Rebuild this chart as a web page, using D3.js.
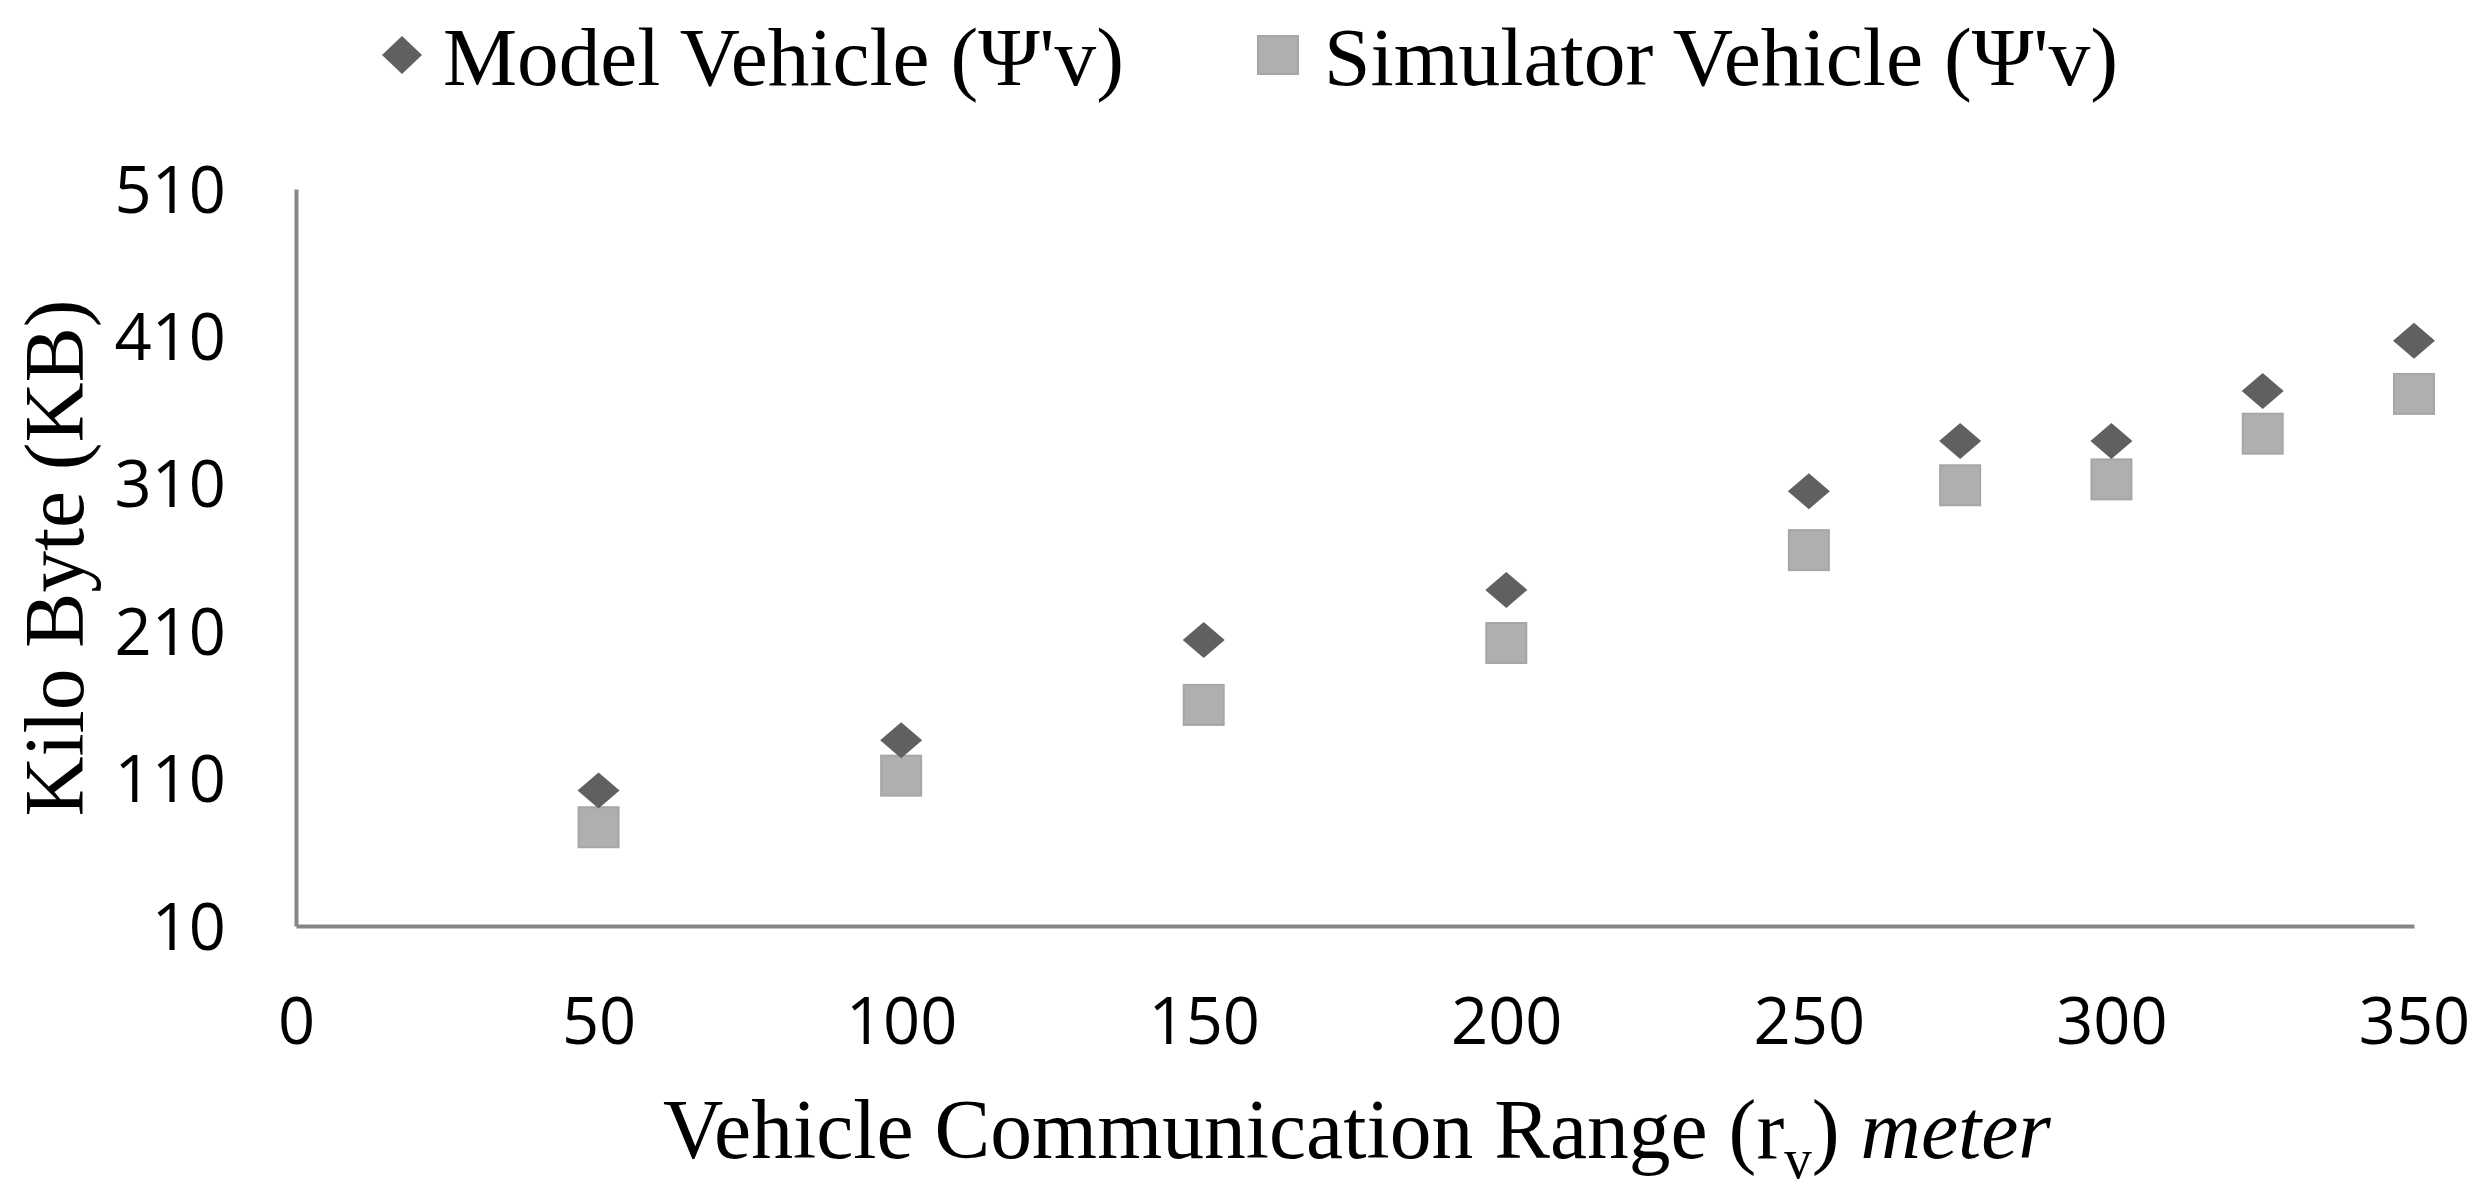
<!DOCTYPE html>
<html>
<head>
<meta charset="utf-8">
<script src="https://cdn.jsdelivr.net/npm/d3@7"></script>
<style>
  html, body { margin: 0; padding: 0; background: #fff; }
  svg { display: block; }
</style>
</head>
<body>
<svg id="chart" width="2483" height="1195"></svg>
<script>
const ranges = [50, 100, 150, 200, 250, 275, 300, 325, 350];
const modelValues = [102, 136, 204, 238, 305, 339, 339, 373, 407];
const simulatorValues = [77, 112, 160, 202, 265, 309, 313, 344, 371];
const xTicks = [0, 50, 100, 150, 200, 250, 300, 350];
const yTicks = [10, 110, 210, 310, 410, 510];
const seriesNames = ["Model Vehicle (\u03A8'v)", "Simulator Vehicle (\u03A8'v)"];

const svg = d3.select("#chart");
const W = 2483, H = 1195;
svg.append("rect").attr("width", W).attr("height", H).attr("fill", "#fff");

const x = d3.scaleLinear().domain([0, 350]).range([296, 2414]);
const y = d3.scaleLinear().domain([10, 510]).range([926, 189]);

const tickFont = "'Open Sans', 'Liberation Sans', sans-serif";
const serif = "'Liberation Serif', 'Times New Roman', serif";
const axisColor = "#878787";

// Y axis
const gy = svg.append("g").attr("transform", `translate(${x(0)},0)`)
  .call(d3.axisLeft(y).tickValues(yTicks).tickSize(0).tickPadding(70));
gy.select(".domain").attr("stroke", axisColor).attr("stroke-width", 4);
gy.selectAll(".tick text")
  .attr("font-family", tickFont).attr("font-size", 65).attr("fill", "#000")
  .attr("dy", 23);

// X axis
const gx = svg.append("g").attr("transform", `translate(0,${y(10)})`)
  .call(d3.axisBottom(x).tickValues(xTicks).tickSize(0));
gx.select(".domain").attr("stroke", axisColor).attr("stroke-width", 4);
gx.selectAll(".tick text")
  .attr("font-family", tickFont).attr("font-size", 65).attr("fill", "#000")
  .attr("y", 118).attr("dy", 0);

// Data
const modelData = ranges.map((r, i) => ({ x: r, v: modelValues[i] }));
const simData = ranges.map((r, i) => ({ x: r, v: simulatorValues[i] }));

const diamondPath = "M0,-18L21,0L0,18L-21,0Z";

svg.append("g").selectAll("rect").data(simData).join("rect")
  .attr("x", d => x(d.x) - 20).attr("y", d => y(d.v) - 20)
  .attr("width", 40).attr("height", 40)
  .attr("fill", "#afafaf").attr("stroke", "#a6a6a6").attr("stroke-width", 2);

svg.append("g").selectAll("path").data(modelData).join("path")
  .attr("d", diamondPath)
  .attr("transform", d => `translate(${x(d.x)},${y(d.v)})`)
  .attr("fill", "#606060");

// Legend
const leg = svg.append("g");
leg.append("path").attr("d", "M0,-19L20,0L0,19L-20,0Z")
  .attr("transform", "translate(402,55)").attr("fill", "#606060");
leg.append("text").attr("x", 443).attr("y", 85)
  .attr("font-family", serif).attr("font-size", 82).attr("fill", "#000")
  .attr("textLength", 681).attr("lengthAdjust", "spacingAndGlyphs")
  .text(seriesNames[0]);
leg.append("rect").attr("x", 1258).attr("y", 36).attr("width", 40).attr("height", 38)
  .attr("fill", "#afafaf").attr("stroke", "#a6a6a6").attr("stroke-width", 2);
leg.append("text").attr("x", 1324).attr("y", 85)
  .attr("font-family", serif).attr("font-size", 82).attr("fill", "#000")
  .attr("textLength", 794).attr("lengthAdjust", "spacingAndGlyphs")
  .text(seriesNames[1]);

// Y title
svg.append("text")
  .attr("transform", "translate(83,558) rotate(-90)")
  .attr("text-anchor", "middle")
  .attr("font-family", serif).attr("font-size", 85).attr("fill", "#000")
  .attr("textLength", 517).attr("lengthAdjust", "spacingAndGlyphs")
  .text("Kilo Byte (KB)");

// X title
const xt = svg.append("g");
const xtext = xt.append("text")
  .attr("font-family", serif).attr("font-size", 85).attr("fill", "#000");
xtext.append("tspan").text("Vehicle Communication Range (r");
xtext.append("tspan").attr("font-size", 56).attr("dy", 20).text("v");
xtext.append("tspan").attr("dy", -20).text(")");
xtext.append("tspan").attr("font-style", "italic").text(" meter");
const w = xtext.node().getComputedTextLength();
const sx = 1388 / w;
xt.attr("transform", `translate(663,1158) scale(${sx},1)`);
</script>
</body>
</html>
